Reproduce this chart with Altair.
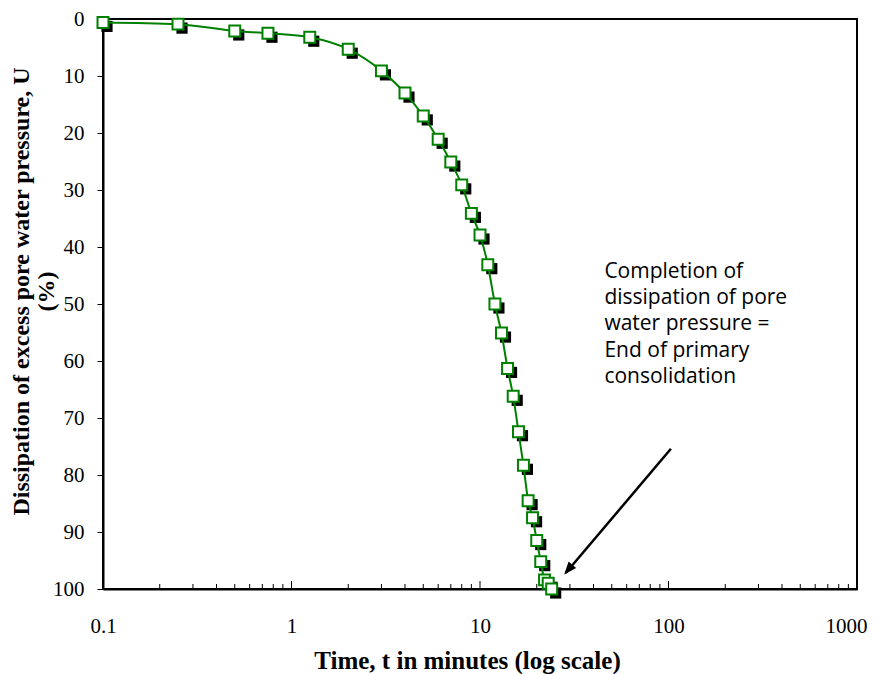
import altair as alt
import pandas as pd

# ---- data ----
time_min = [0.1, 0.25, 0.5, 0.75, 1.25, 2, 3, 4, 5, 6, 7, 8, 9, 10,
            11, 12, 13, 14, 15, 16, 17, 18, 19, 20, 21, 22, 23, 24]
dissipation = [0.6, 0.9, 2.1, 2.5, 3.2, 5.3, 9.1, 13.0, 17.0, 21.1, 25.1, 29.1, 34.1, 37.9,
               43.1, 50.0, 55.1, 61.3, 66.2, 72.4, 78.3, 84.5, 87.5, 91.5, 95.2, 98.4, 99.0, 100.0]

x_major = [0.1, 1, 10, 100, 1000]
x_minor = [m * d for d in [0.1, 1, 10, 100] for m in range(2, 10)]
y_ticks = [0, 10, 20, 30, 40, 50, 60, 70, 80, 90, 100]

annotation_text = ["Completion of", "dissipation of pore", "water pressure =",
                   "End of primary", "consolidation"]
annotation_pos = {"t": 45.7, "U": 42.4}
arrow_start = {"t": 103.0, "U": 75.4}
arrow_tip = {"t": 28.5, "U": 97.2}

W, H = 754, 570
GREEN = "#008000"

df = pd.DataFrame({"t": time_min, "U": dissipation})

xs = alt.Scale(type="log", domain=[0.1, 1000], nice=False)
ys = alt.Scale(domain=[0, 100], reverse=True, nice=False, zero=False)

x_axis = alt.Axis(values=x_major, labelExpr="format(datum.value, '~g')", tickSize=0,
                  labelFlush=False, labelOverlap=False,
                  labelAlign=alt.condition("datum.value >= 1000", alt.value("right"),
                                           alt.value("center")),
                  labelOffset=alt.condition("datum.value >= 1000", alt.value(10),
                                            alt.value(0)),
                  labelPadding=26, labelFont="Liberation Serif", labelFontSize=21,
                  labelColor="black", grid=False, domainColor="black", domainWidth=2,
                  title="Time, t in minutes (log scale)", titleFont="Liberation Serif",
                  titleFontSize=25, titleFontWeight="bold", titleColor="black",
                  titlePadding=12, titleX=364)
y_axis = alt.Axis(values=y_ticks, tickSize=6, tickColor="black", tickWidth=1,
                  labelPadding=13, labelFont="Liberation Serif", labelFontSize=21,
                  labelColor="black", grid=False, domainColor="black", domainWidth=2,
                  title=["Dissipation of excess pore water pressure, U", "(%)"],
                  titleFont="Liberation Serif", titleFontSize=24, titleFontWeight="bold",
                  titleColor="black", titleX=-70, titleY=272, titleLineHeight=25)

x_enc = alt.X("t:Q", scale=xs, axis=x_axis)
y_enc = alt.Y("U:Q", scale=ys, axis=y_axis)

shadow = alt.Chart(df).mark_point(shape="square", filled=True, color="black", opacity=1,
                                  size=125, xOffset=4, yOffset=4).encode(x=x_enc, y=y_enc)
line = alt.Chart(df).mark_line(color=GREEN, strokeWidth=2, interpolate="monotone").encode(
    x=x_enc, y=y_enc)
markers = alt.Chart(df).mark_point(shape="square", filled=True, fill="white", stroke=GREEN,
                                   strokeWidth=2, opacity=1, size=120).encode(x=x_enc, y=y_enc)

minor_df = pd.DataFrame({"t": x_minor})
major_df = pd.DataFrame({"t": x_major[1:-1]})
minor_ticks = alt.Chart(minor_df).mark_rule(color="black", strokeWidth=1).encode(
    x=alt.X("t:Q", scale=xs), y=alt.value(H), y2=alt.value(H - 5))
major_ticks = alt.Chart(major_df).mark_rule(color="black", strokeWidth=1).encode(
    x=alt.X("t:Q", scale=xs), y=alt.value(H), y2=alt.value(H - 8))

ann_df = pd.DataFrame({"t": [annotation_pos["t"]], "U": [annotation_pos["U"]],
                       "label": ["\n".join(annotation_text)]})
annotation = alt.Chart(ann_df).mark_text(align="left", baseline="top", lineBreak="\n",
                                         font="Open Sans", fontSize=21, lineHeight=26.3,
                                         color="black").encode(
    x=alt.X("t:Q", scale=xs), y=alt.Y("U:Q", scale=ys), text="label:N")

arrow_df = pd.DataFrame({"t": [arrow_start["t"], arrow_tip["t"]],
                         "U": [arrow_start["U"], arrow_tip["U"]], "o": [0, 1]})
arrow_line = alt.Chart(arrow_df).mark_line(color="black", strokeWidth=2.5).encode(
    x=alt.X("t:Q", scale=xs), y=alt.Y("U:Q", scale=ys), order="o:Q")
head_df = pd.DataFrame({"t": [arrow_tip["t"]], "U": [arrow_tip["U"]]})
arrow_head = alt.Chart(head_df).mark_point(shape="M0,-1L0.7,0.8L-0.7,0.8Z", filled=True,
                                           color="black", opacity=1, size=200, angle=220,
                                           xOffset=3, yOffset=-4).encode(
    x=alt.X("t:Q", scale=xs), y=alt.Y("U:Q", scale=ys))

chart = alt.layer(minor_ticks, major_ticks, shadow, line, markers, arrow_line, arrow_head,
                  annotation).properties(
    width=W, height=H,
    autosize=alt.AutoSizeParams(type="none"),
    padding={"left": 95, "top": 11, "right": 12, "bottom": 85},
    background="white",
).configure_view(stroke="black", strokeWidth=2)

chart.save("out.html", embed_options={"renderer": "svg", "actions": False})
